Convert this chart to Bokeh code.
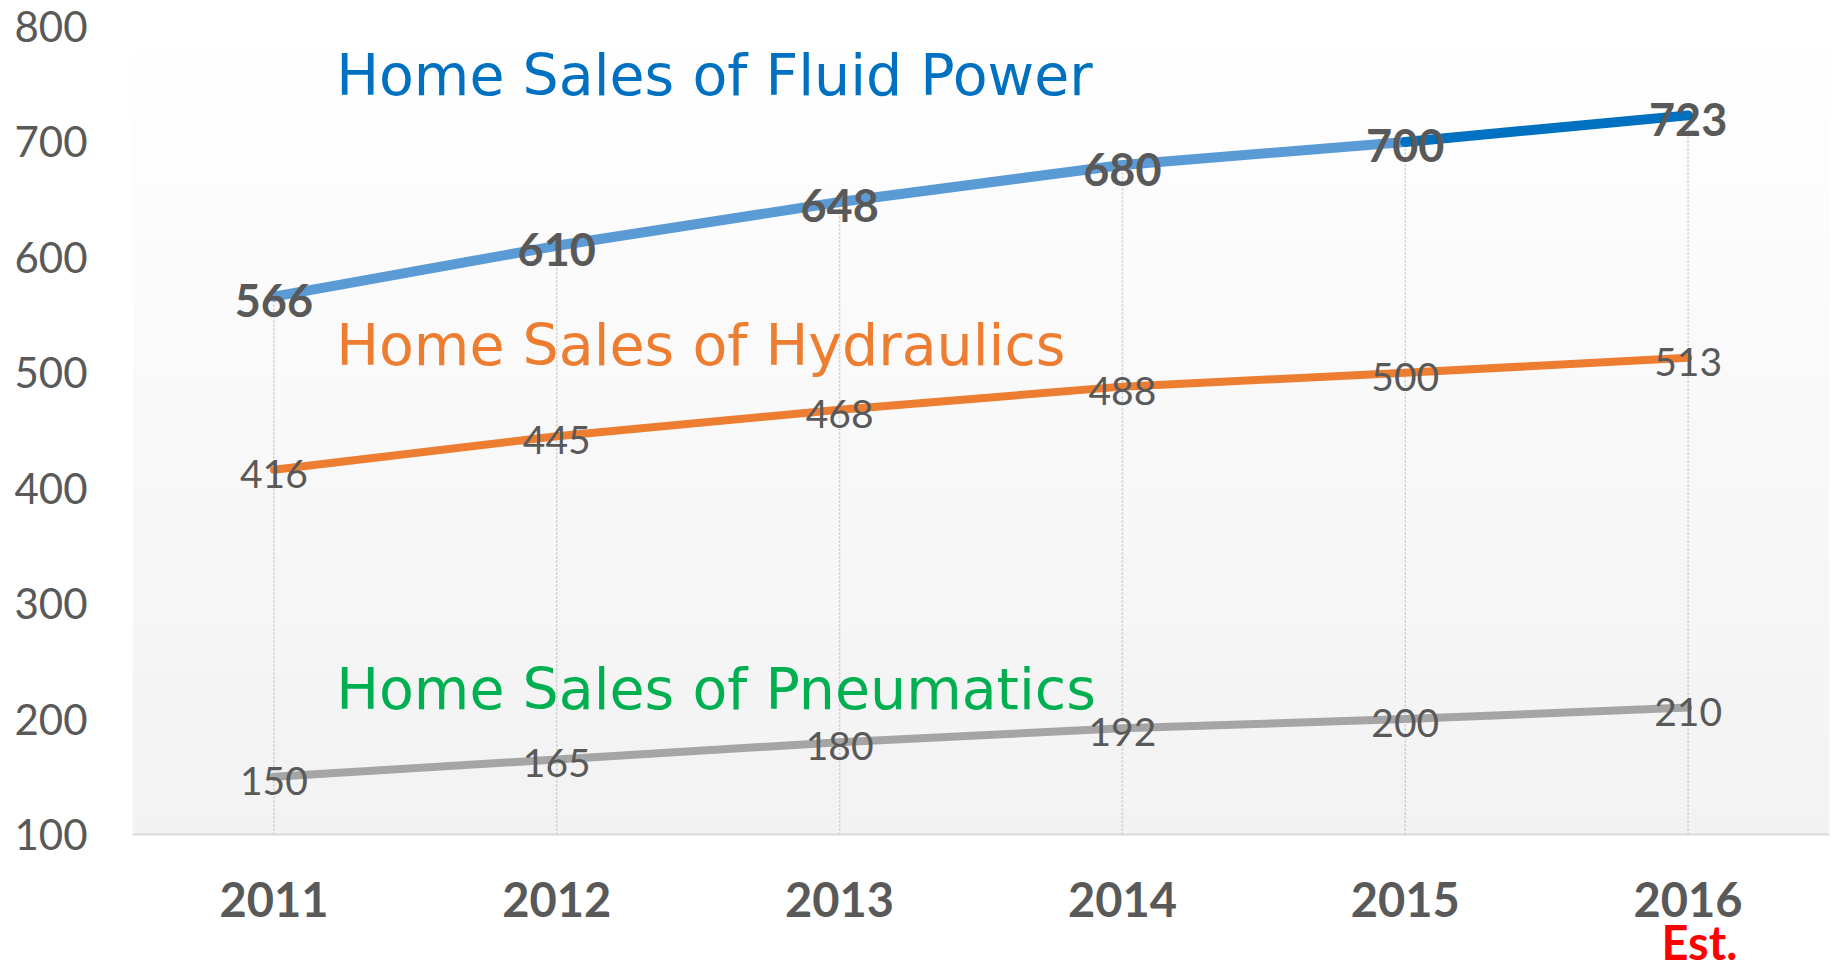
from bokeh.plotting import figure
from bokeh.models import Range1d, FixedTicker, BoxAnnotation, LinearAxis, CustomJSTickFormatter
from bokeh.core.properties import value
from bokeh.embed import file_html
from bokeh.resources import INLINE

# ---------------- data ----------------
years = [2011, 2012, 2013, 2014, 2015, 2016]
year_labels = ["2011", "2012", "2013", "2014", "2015", "2016"]
fluid_power = [566, 610, 648, 680, 700, 723]
hydraulics = [416, 445, 468, 488, 500, 513]
pneumatics = [150, 165, 180, 192, 200, 210]
y_ticks = [100, 200, 300, 400, 500, 600, 700, 800]
series_titles = ["Home Sales of Fluid Power", "Home Sales of Hydraulics", "Home Sales of Pneumatics"]
title_colors = ["#0070c0", "#ed7d31", "#00b050"]
title_y = [758, 524, 226]
title_x = 2011.22
estimate_note = "Est."

Y_MIN, Y_MAX = 100, 800
LABEL_COLOR = "#595959"

p = figure(width=1832, height=972, output_backend="svg", toolbar_location=None,
           x_range=Range1d(2010.5, 2016.5), y_range=Range1d(Y_MIN, Y_MAX),
           min_border_left=132, min_border_right=3, min_border_top=26, min_border_bottom=138)
p.outline_line_color = None
p.background_fill_color = "white"
p.border_fill_color = "white"
p.xgrid.visible = False
p.ygrid.visible = False

# background vertical gradient (white top -> light gray bottom)
n = 35
step = (Y_MAX - Y_MIN) / n
for i in range(n):
    b = Y_MIN + step * i
    t = b + step + 0.6
    frac = (i + 0.5) / n
    c = int(round(242 + (255 - 242) * frac))
    p.add_layout(BoxAnnotation(bottom=b, top=t, fill_color="#%02x%02x%02x" % (c, c, c),
                               fill_alpha=1.0, line_color=None, level="underlay"))

# drop lines from the top series to the axis
p.segment(x0=years, y0=[Y_MIN] * len(years), x1=years, y1=fluid_power,
          line_color="#c8c8c8", line_width=1.5, line_dash="2 2")

# series lines
p.line(years, pneumatics, line_color="#a5a5a5", line_width=8, line_cap="round", line_join="round")
p.line(years, hydraulics, line_color="#ed7d31", line_width=8, line_cap="round", line_join="round")
p.line(years[:5], fluid_power[:5], line_color="#5b9bd5", line_width=10, line_cap="round", line_join="round")
p.line(years[4:], fluid_power[4:], line_color="#0070c0", line_width=10, line_cap="round", line_join="round")

# data labels
p.text(x=years, y=fluid_power, text=[str(v) for v in fluid_power], y_offset=4,
       text_font=value("Lato"), text_font_style="bold", text_font_size="45px",
       text_color=LABEL_COLOR, text_align="center", text_baseline="middle")
p.text(x=years, y=hydraulics, text=[str(v) for v in hydraulics], y_offset=4,
       text_font=value("Lato"), text_font_size="39px",
       text_color=LABEL_COLOR, text_align="center", text_baseline="middle")
p.text(x=years, y=pneumatics, text=[str(v) for v in pneumatics], y_offset=4,
       text_font=value("Lato"), text_font_size="39px",
       text_color=LABEL_COLOR, text_align="center", text_baseline="middle")

# series titles
p.text(x=[title_x] * 3, y=title_y, text=series_titles, text_color=title_colors,
       text_font=value("DejaVu Sans"), text_font_size="57px",
       text_align="left", text_baseline="middle")

# axes
p.yaxis.ticker = FixedTicker(ticks=y_ticks)
p.yaxis.axis_line_color = None
p.yaxis.major_tick_line_color = None
p.yaxis.minor_tick_line_color = None
p.yaxis.major_tick_out = 0
p.yaxis.major_label_text_font = "Lato"
p.yaxis.major_label_text_font_size = "42px"
p.yaxis.major_label_text_color = LABEL_COLOR
p.yaxis.major_label_standoff = 45

p.xaxis.ticker = FixedTicker(ticks=years)
p.xaxis.major_label_overrides = {y: l for y, l in zip(years, year_labels)}
p.xaxis.axis_line_color = "#d9d9d9"
p.xaxis.axis_line_width = 2
p.xaxis.major_tick_line_color = None
p.xaxis.minor_tick_line_color = None
p.xaxis.major_tick_out = 0
p.xaxis.major_label_text_font = "Lato"
p.xaxis.major_label_text_font_style = "bold"
p.xaxis.major_label_text_font_size = "47px"
p.xaxis.major_label_text_color = LABEL_COLOR
p.xaxis.major_label_standoff = 47

# "Est." note under the last year, as a second bottom axis
est_axis = LinearAxis(ticker=FixedTicker(ticks=[years[-1] + 0.04]),
                      formatter=CustomJSTickFormatter(code="return '%s'" % estimate_note))
est_axis.axis_line_color = None
est_axis.major_tick_line_color = None
est_axis.minor_tick_line_color = None
est_axis.major_tick_out = 0
est_axis.major_tick_in = 0
est_axis.major_label_text_font = "Lato"
est_axis.major_label_text_font_style = "bold"
est_axis.major_label_text_font_size = "47px"
est_axis.major_label_text_color = "#ff0000"
est_axis.major_label_standoff = -6
p.add_layout(est_axis, "below")

open("out.html", "w").write(file_html(p, INLINE))
